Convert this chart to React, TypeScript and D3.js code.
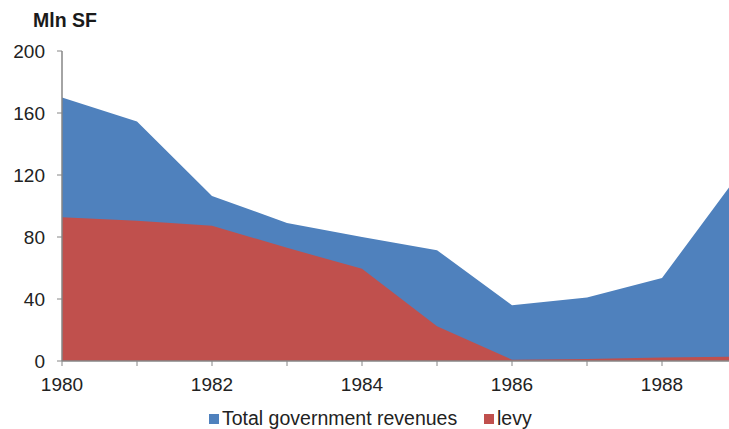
import React from 'react';
import * as d3 from 'd3';

const years = [1980, 1981, 1982, 1983, 1984, 1985, 1986, 1987, 1988, 1989];
const totalRevenues = [170, 154.5, 106.5, 89, 80, 71.5, 36, 41, 53.5, 119];
const levy = [92.7, 90.5, 87.3, 73, 59.5, 22.5, 0.8, 1.3, 2.2, 2.8];
const yTicks = [0, 40, 80, 120, 160, 200];
const xLabels = [1980, 1982, 1984, 1986, 1988];

const W = 729;
const H = 429;
const FONT = 'Liberation Sans, Arial, sans-serif';

export default function App() {
  const x = d3.scaleLinear().domain([1980, 1989]).range([62, 737]);
  const y = d3.scaleLinear().domain([0, 200]).range([361, 51]);

  const area = (vals: number[]) =>
    d3
      .area<number>()
      .x((_, i) => x(years[i]))
      .y0(y(0))
      .y1(d => y(d))(vals) || '';

  const axisColor = '#868686';

  return (
    <div style={{ position: 'absolute', left: 0, top: 0 }}>
      <svg width={W} height={H} style={{ display: 'block', fontFamily: FONT }}>
        <rect width={W} height={H} fill="#fff" />
        <text x={33} y={27} fontSize={19.5} fontWeight="bold" fill="#1a1a1a">
          Mln SF
        </text>

        <path d={area(totalRevenues)} fill="#4F81BD" />
        <path d={area(levy)} fill="#C0504D" />

        {/* y axis */}
        <line x1={x(1980)} x2={x(1980)} y1={y(200)} y2={y(0)} stroke={axisColor} strokeWidth={1.5} />
        {yTicks.map(t => (
          <g key={t}>
            <line x1={x(1980) - 5} x2={x(1980)} y1={y(t)} y2={y(t)} stroke={axisColor} strokeWidth={1} />
            <text x={45} y={y(t)} dy="0.35em" textAnchor="end" fontSize={19} fill="#222">
              {t}
            </text>
          </g>
        ))}

        {/* x axis */}
        <line x1={x(1980)} x2={W} y1={y(0)} y2={y(0)} stroke={axisColor} strokeWidth={1.5} />
        {years.map(yr => (
          <line key={yr} x1={x(yr)} x2={x(yr)} y1={y(0)} y2={y(0) + 5} stroke={axisColor} strokeWidth={1} />
        ))}
        {xLabels.map(yr => (
          <text key={yr} x={x(yr)} y={391} textAnchor="middle" fontSize={19} fill="#222">
            {yr}
          </text>
        ))}

        {/* legend */}
        <rect x={209} y={414} width={10} height={10} fill="#4F81BD" />
        <text x={222} y={425} fontSize={19.5} fill="#222">
          Total government revenues
        </text>
        <rect x={484} y={414} width={10} height={10} fill="#C0504D" />
        <text x={497} y={425} fontSize={19.5} fill="#222">
          levy
        </text>
      </svg>
    </div>
  );
}
